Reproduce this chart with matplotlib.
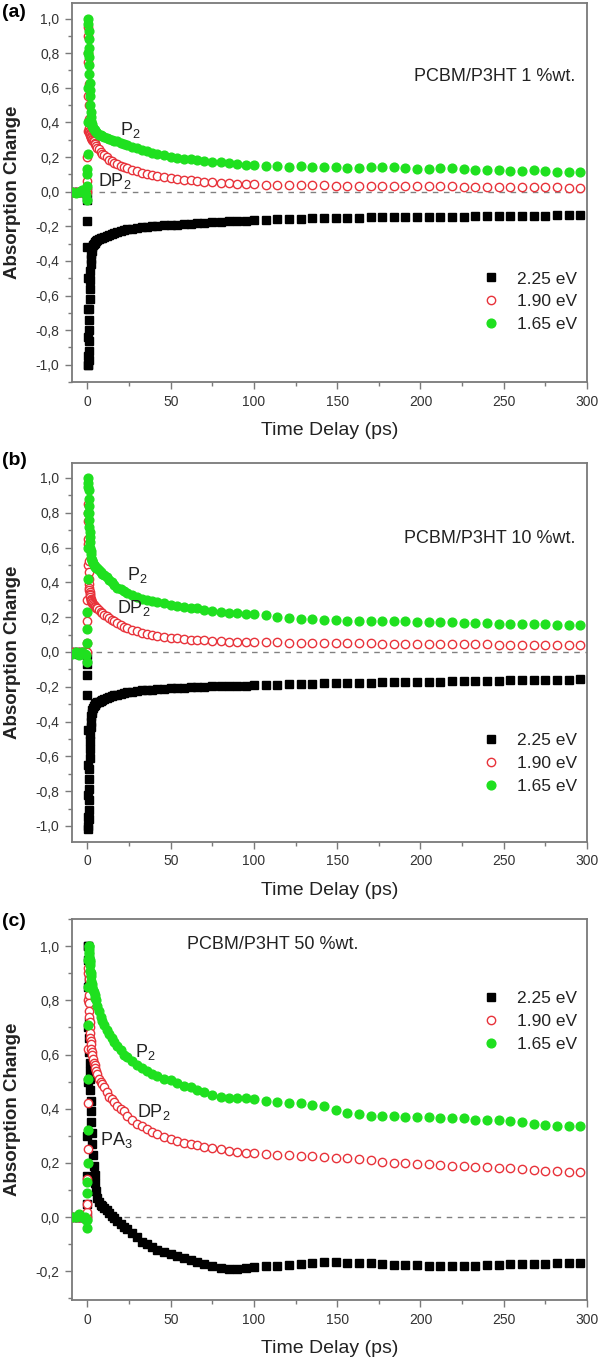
"""
    transient absorption, PCBM/P3HT blends
"""

import matplotlib
matplotlib.use('Agg')
import matplotlib.pyplot as plt
from matplotlib.ticker import MultipleLocator, FuncFormatter

plt.rcParams['font.family'] = ['Liberation Sans', 'DejaVu Sans']
plt.rcParams['mathtext.fontset'] = 'custom'
plt.rcParams['mathtext.rm'] = 'Liberation Sans'
plt.rcParams['mathtext.it'] = 'Liberation Sans'

# time delay (ps), same grid read for all three panels
delay = [-9, -7, -5, -3, -1.5, -0.6,
         -0.3, -0.2, -0.1, 0.0, 0.1, 0.2, 0.3, 0.4,
         0.5, 0.6, 0.7, 0.8, 0.9, 1.0, 1.1, 1.2, 1.3, 1.4, 1.5, 1.7, 1.9, 2.1,
         2.4, 2.7, 3.0, 3.4, 3.8, 4.3, 4.8, 5.4, 6, 7, 8, 9, 10,
         11.5, 13, 14.5, 16, 18, 20, 22, 24, 27, 30, 33, 36, 39, 42, 46, 50,
         54, 58, 62, 66, 70, 75, 80, 85, 90, 95, 100,
         107, 114, 121, 128, 135, 142, 149, 156, 163, 170, 177, 184, 191, 198,
         205, 212, 219, 226, 233, 240, 247, 254, 261, 268, 275, 282, 289, 296]

# (a) 1 %wt.
a_225 = [0.0, 0.0, 0.0, 0.0, 0.0, 0.0,
         0.0, -0.05, -0.17, -0.32, -0.5, -0.68, -0.84, -0.95,
         -1.0, -1.0, -0.97, -0.92, -0.86, -0.8, -0.74, -0.68, -0.62, -0.56, -0.51, -0.46, -0.42, -0.39,
         -0.36, -0.34, -0.32, -0.31, -0.3, -0.295, -0.29, -0.285, -0.28, -0.275, -0.27, -0.265, -0.26,
         -0.255, -0.25, -0.245, -0.24, -0.232, -0.225, -0.22, -0.217, -0.213, -0.21, -0.206, -0.203, -0.2, -0.198, -0.195, -0.192,
         -0.19, -0.188, -0.186, -0.183, -0.18, -0.178, -0.175, -0.172, -0.17, -0.168, -0.165,
         -0.163, -0.16, -0.158, -0.157, -0.155, -0.154, -0.152, -0.15, -0.15, -0.149, -0.148, -0.148, -0.147, -0.146,
         -0.146, -0.145, -0.144, -0.144, -0.143, -0.142, -0.141, -0.14, -0.14, -0.139, -0.138, -0.137, -0.136, -0.135]
a_190 = [0.0, 0.0, 0.0, 0.0, 0.0, 0.0,
         0.0, 0.02, 0.06, 0.2, 0.35, 0.55, 0.75, 0.9,
         0.95, 0.8, 0.62, 0.5, 0.42, 0.37, 0.35, 0.345, 0.34, 0.335, 0.33, 0.325, 0.32, 0.315,
         0.31, 0.305, 0.3, 0.295, 0.29, 0.28, 0.275, 0.265, 0.255, 0.245, 0.23, 0.22, 0.21,
         0.2, 0.185, 0.175, 0.165, 0.157, 0.15, 0.143, 0.137, 0.127, 0.117, 0.11, 0.102, 0.097, 0.092, 0.086, 0.08,
         0.075, 0.07, 0.065, 0.06, 0.056, 0.053, 0.05, 0.048, 0.046, 0.044, 0.042,
         0.04, 0.041, 0.038, 0.039, 0.036, 0.037, 0.035, 0.034, 0.035, 0.033, 0.034, 0.032, 0.033, 0.031,
         0.031, 0.03, 0.031, 0.029, 0.029, 0.028, 0.028, 0.027, 0.026, 0.026, 0.025, 0.024, 0.023, 0.022]
a_165 = [0.0, -0.01, 0.0, 0.01, 0.0, -0.02,
         -0.05, 0.03, 0.1, 0.13, 0.22, 0.4, 0.6, 0.8,
         1.0, 0.97, 0.93, 0.88, 0.83, 0.78, 0.73, 0.68, 0.63, 0.59, 0.55, 0.5, 0.46, 0.43,
         0.41, 0.39, 0.38, 0.37, 0.36, 0.355, 0.35, 0.345, 0.34, 0.33, 0.325, 0.32, 0.315,
         0.31, 0.305, 0.3, 0.295, 0.29, 0.28, 0.275, 0.27, 0.26, 0.25, 0.24, 0.235, 0.225, 0.22, 0.21, 0.2,
         0.195, 0.19, 0.19, 0.18, 0.175, 0.17, 0.17, 0.165, 0.16, 0.155, 0.155,
         0.15, 0.15, 0.145, 0.15, 0.145, 0.145, 0.14, 0.135, 0.135, 0.14, 0.14, 0.14, 0.135, 0.13,
         0.13, 0.135, 0.135, 0.13, 0.125, 0.125, 0.125, 0.12, 0.12, 0.125, 0.12, 0.115, 0.115, 0.115]

# (b) 10 %wt.
b_225 = [0.0, 0.0, -0.01, 0.0, 0.0, -0.01,
         -0.02, -0.07, -0.13, -0.25, -0.45, -0.65, -0.82, -0.95,
         -1.02, -1.0, -0.96, -0.91, -0.85, -0.79, -0.73, -0.67, -0.61, -0.56, -0.51, -0.47, -0.43, -0.4,
         -0.37, -0.35, -0.335, -0.32, -0.31, -0.305, -0.3, -0.295, -0.29, -0.285, -0.28, -0.275, -0.27,
         -0.265, -0.26, -0.255, -0.25, -0.245, -0.24, -0.235, -0.232, -0.228, -0.224, -0.22, -0.218, -0.216, -0.214, -0.212, -0.21,
         -0.208, -0.206, -0.204, -0.202, -0.2, -0.198, -0.197, -0.196, -0.195, -0.193, -0.192,
         -0.19, -0.188, -0.186, -0.184, -0.183, -0.181, -0.18, -0.178, -0.177, -0.176, -0.175, -0.174, -0.173, -0.172,
         -0.171, -0.17, -0.169, -0.168, -0.167, -0.166, -0.165, -0.164, -0.163, -0.162, -0.161, -0.16, -0.159, -0.158]
b_190 = [0.0, 0.0, 0.0, 0.0, 0.0, 0.0,
         0.0, 0.05, 0.18, 0.3, 0.5, 0.65, 0.8, 0.85,
         0.75, 0.62, 0.52, 0.46, 0.42, 0.39, 0.37, 0.355, 0.345, 0.335, 0.325, 0.315, 0.305, 0.3,
         0.29, 0.285, 0.28, 0.275, 0.27, 0.265, 0.26, 0.255, 0.25, 0.24, 0.23, 0.225, 0.215,
         0.205, 0.195, 0.185, 0.175, 0.165, 0.155, 0.145, 0.138, 0.128, 0.118, 0.11, 0.103, 0.097, 0.092, 0.086, 0.082,
         0.078, 0.074, 0.071, 0.068, 0.066, 0.064, 0.062, 0.06, 0.06, 0.058, 0.057,
         0.056, 0.055, 0.054, 0.053, 0.052, 0.052, 0.051, 0.05, 0.05, 0.049, 0.048, 0.048, 0.047, 0.046,
         0.046, 0.045, 0.045, 0.044, 0.043, 0.043, 0.042, 0.042, 0.041, 0.04, 0.04, 0.039, 0.039, 0.038]
b_165 = [-0.01, 0.0, -0.02, 0.0, -0.01, -0.02,
         -0.06, 0.05, 0.13, 0.23, 0.42, 0.6, 0.8, 0.95,
         1.0, 0.97, 0.93, 0.88, 0.84, 0.8, 0.76, 0.72, 0.69, 0.66, 0.63, 0.6, 0.58, 0.56,
         0.54, 0.53, 0.52, 0.51, 0.5, 0.495, 0.49, 0.485, 0.48, 0.47, 0.46, 0.45, 0.44,
         0.43, 0.415, 0.4, 0.385, 0.37, 0.36, 0.35, 0.34, 0.33, 0.315, 0.305, 0.3, 0.295, 0.285, 0.28, 0.27,
         0.265, 0.26, 0.255, 0.25, 0.24, 0.235, 0.23, 0.225, 0.225, 0.22, 0.22,
         0.21, 0.2, 0.195, 0.19, 0.19, 0.185, 0.185, 0.18, 0.18, 0.18, 0.175, 0.175, 0.175, 0.17,
         0.17, 0.17, 0.17, 0.165, 0.165, 0.165, 0.16, 0.16, 0.16, 0.16, 0.16, 0.155, 0.155, 0.155]

# (c) 50 %wt.
c_225 = [0.0, 0.0, 0.0, 0.0, 0.0, 0.0,
         0.0, 0.05, 0.15, 0.3, 0.5, 0.7, 0.85, 0.95,
         1.0, 1.0, 0.95, 0.88, 0.8, 0.72, 0.66, 0.61, 0.57, 0.54, 0.51, 0.47, 0.43, 0.39,
         0.35, 0.31, 0.27, 0.23, 0.19, 0.155, 0.125, 0.095, 0.07, 0.055, 0.045, 0.04, 0.035,
         0.025, 0.015, 0.005, -0.005, -0.015, -0.025, -0.035, -0.045, -0.06, -0.075, -0.09, -0.1, -0.11, -0.12, -0.128, -0.135,
         -0.142, -0.15, -0.158, -0.165, -0.172, -0.18, -0.187, -0.19, -0.19, -0.188, -0.185,
         -0.182, -0.18, -0.177, -0.172, -0.168, -0.166, -0.166, -0.168, -0.17, -0.17, -0.172, -0.175, -0.176, -0.178,
         -0.18, -0.182, -0.182, -0.182, -0.18, -0.178, -0.176, -0.174, -0.173, -0.172, -0.172, -0.171, -0.17, -0.17]
c_190 = [0.0, 0.0, 0.0, 0.0, 0.0, 0.0,
         0.0, 0.02, 0.05, 0.14, 0.25, 0.42, 0.62, 0.8,
         0.9, 0.92, 0.88, 0.85, 0.82, 0.79, 0.76, 0.74, 0.72, 0.7, 0.68, 0.66, 0.65, 0.64,
         0.62, 0.61, 0.6, 0.585, 0.57, 0.56, 0.55, 0.54, 0.53, 0.51, 0.5, 0.49, 0.48,
         0.46, 0.445, 0.435, 0.425, 0.41, 0.4, 0.39, 0.375, 0.36, 0.345, 0.335, 0.325, 0.315, 0.305, 0.295, 0.29,
         0.28, 0.275, 0.27, 0.265, 0.26, 0.255, 0.25, 0.245, 0.24, 0.238, 0.235,
         0.232, 0.23, 0.228, 0.226, 0.224, 0.222, 0.22, 0.218, 0.215, 0.21, 0.205, 0.2, 0.198, 0.196,
         0.195, 0.192, 0.19, 0.188, 0.186, 0.185, 0.183, 0.18, 0.178, 0.175, 0.172, 0.17, 0.168, 0.165]
c_165 = [0.0, 0.0, 0.01, 0.0, 0.0, -0.01,
         -0.04, -0.01, 0.09, 0.13, 0.2, 0.32, 0.51, 0.71,
         0.85, 0.95, 1.0, 1.0, 0.99, 0.98, 0.97, 0.96, 0.95, 0.94, 0.93, 0.91, 0.9, 0.89,
         0.87, 0.86, 0.85, 0.84, 0.83, 0.82, 0.81, 0.8, 0.78, 0.76, 0.74, 0.725, 0.71,
         0.69, 0.675, 0.66, 0.645, 0.63, 0.615, 0.6, 0.59, 0.575, 0.56, 0.55, 0.54, 0.53, 0.52, 0.51, 0.505,
         0.495, 0.485, 0.48, 0.47, 0.46, 0.45, 0.445, 0.44, 0.44, 0.44, 0.435,
         0.43, 0.425, 0.42, 0.42, 0.415, 0.41, 0.395, 0.385, 0.38, 0.375, 0.375, 0.375, 0.37, 0.37,
         0.37, 0.365, 0.365, 0.365, 0.36, 0.36, 0.36, 0.355, 0.35, 0.345, 0.34, 0.335, 0.335, 0.335]

legend_labels = ['2.25 eV', '1.90 eV', '1.65 eV']
sample_labels = ['PCBM/P3HT 1 %wt.', 'PCBM/P3HT 10 %wt.', 'PCBM/P3HT 50 %wt.']
panel_tags = ['(a)', '(b)', '(c)']
zero_start = [7, 5, 22]

panels = [
    (a_225, a_190, a_165),
    (b_225, b_190, b_165),
    (c_225, c_190, c_165),
]

BLACK = '#000000'
RED = '#e8323a'
GREEN = '#1fe01f'
SPINE = '#7a7a7a'

fig = plt.figure(figsize=(6, 13.62), dpi=100)

boxes = [[0.12, 0.7195, 0.8583, 0.2783],
         [0.12, 0.3818, 0.8583, 0.2783],
         [0.12, 0.0455, 0.8583, 0.2797]]
ylims = [(-1.1, 1.09), (-1.092, 1.086), (-0.306, 1.1)]
tag_y = [1 - 4 / 1362, 1 - 452 / 1362, 1 - 913 / 1362]

comma = FuncFormatter(lambda v, p: f'{v:.1f}'.replace('.', ','))

axes = []
for i, box in enumerate(boxes):
    ax = fig.add_axes(box)
    axes.append(ax)
    s225, s190, s165 = panels[i]

    ax.hlines(0, zero_start[i], 300, colors='#808080', linestyles=(0, (4, 4)), lw=1, zorder=1)
    ax.plot(delay, s225, ls='none', marker='s', ms=6.3, color=BLACK, label=legend_labels[0], zorder=2)
    ax.plot(delay, s190, ls='none', marker='o', ms=6, mfc='white', mec=RED, mew=1,
            label=legend_labels[1], zorder=3)
    ax.plot(delay, s165, ls='none', marker='o', ms=6.3, color=GREEN, label=legend_labels[2], zorder=4)

    ax.set_xlim(-9.3, 300)
    ax.set_ylim(*ylims[i])
    ax.xaxis.set_major_locator(MultipleLocator(50))
    ax.xaxis.set_minor_locator(MultipleLocator(25))
    ax.yaxis.set_major_locator(MultipleLocator(0.2))
    ax.yaxis.set_minor_locator(MultipleLocator(0.1))
    ax.yaxis.set_major_formatter(comma)

    for sp in ax.spines.values():
        sp.set_color(SPINE)
        sp.set_linewidth(1.3)
    ax.tick_params(which='major', direction='out', length=5, width=1, color=SPINE,
                   labelsize=10, labelcolor='#333333', pad=4)
    ax.tick_params(which='minor', direction='out', length=3, width=1, color=SPINE)

    ax.set_xlabel('Time Delay (ps)', fontsize=14, color='#222222', labelpad=10)
    ax.set_ylabel('Absorption Change', fontsize=13.5, fontweight='bold', color='#222222')
    ax.yaxis.set_label_coords(-0.1, 0.5)

    fig.text(0.004, tag_y[i], panel_tags[i], fontsize=14, fontweight='bold', va='top', ha='left')

# sample names
axes[0].text(0.977, 0.805, sample_labels[0], transform=axes[0].transAxes, ha='right', va='center',
             fontsize=13, color='#222222')
axes[1].text(0.977, 0.80, sample_labels[1], transform=axes[1].transAxes, ha='right', va='center',
             fontsize=13, color='#222222')
axes[2].text(0.223, 0.932, sample_labels[2], transform=axes[2].transAxes, ha='left', va='center',
             fontsize=13, color='#222222')

# band labels
ann = dict(fontsize=13, color='#222222', va='baseline', ha='left', zorder=6)
axes[0].text(19.5, 0.33, r'P$_2$', **ann)
axes[0].text(6.3, 0.03, r'DP$_2$', **ann)
axes[1].text(23.7, 0.414, r'P$_2$', **ann)
axes[1].text(17.7, 0.224, r'DP$_2$', **ann)
axes[2].text(28.6, 0.59, r'P$_2$', **ann)
axes[2].text(29.8, 0.369, r'DP$_2$', **ann)
axes[2].text(7.5, 0.266, r'PA$_3$', **ann)

leg_top = [0.292, 0.287, 0.812]
for i, ax in enumerate(axes):
    ax.legend(loc='upper right', bbox_to_anchor=(0.98, leg_top[i]), frameon=False, fontsize=12.5,
              borderpad=0, borderaxespad=0, handlelength=1, handletextpad=1.0, labelspacing=0.45,
              labelcolor='#222222')

plt.savefig('out.png', dpi=100)
